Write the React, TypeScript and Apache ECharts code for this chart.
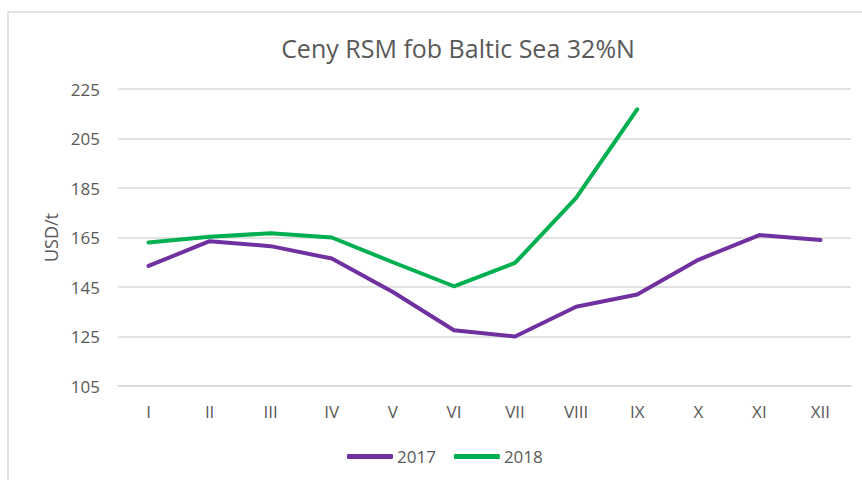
import React, { useEffect, useRef } from "react";
import * as echarts from "echarts";

const months = ["I", "II", "III", "IV", "V", "VI", "VII", "VIII", "IX", "X", "XI", "XII"];
const series2017 = [153.5, 163.5, 161.5, 156.5, 143, 127.5, 125, 137, 142, 156, 166, 164];
const series2018 = [163, 165.3, 166.7, 165, 155, 145.3, 154.7, 181, 216.8, null, null, null];
const yTicks = { min: 105, max: 225, interval: 20 };

const FONT = "'Open Sans', 'Noto Sans', sans-serif";
const TXT = "#595959";

export default function App() {
  const ref = useRef<HTMLDivElement>(null);
  useEffect(() => {
    document.body.style.margin = "0";
    const chart = echarts.init(ref.current!, null, { renderer: "svg" });
    chart.setOption({
      animation: false,
      backgroundColor: "#ffffff",
      textStyle: { fontFamily: FONT },
      graphic: [
        {
          type: "rect",
          shape: { x: 8, y: 12, width: 900, height: 520 },
          style: { fill: "none", stroke: "#d9d9d9", lineWidth: 1.5 },
          silent: true,
        },
      ],
      title: {
        text: "Ceny RSM fob Baltic Sea 32%N",
        left: 453,
        textAlign: "center",
        top: 30,
        textStyle: { fontFamily: FONT, fontSize: 25, fontWeight: "normal", color: TXT },
      },
      legend: {
        top: 443,
        left: 342,
        itemWidth: 46,
        itemHeight: 5,
        itemGap: 18,
        icon: "roundRect",
        textStyle: { fontFamily: FONT, fontSize: 17, color: TXT, padding: [0, 0, 0, -1] },
        data: ["2017", "2018"],
      },
      grid: { left: 118, right: 11, top: 89, bottom: 94, containLabel: false },
      xAxis: {
        type: "category",
        data: months,
        boundaryGap: true,
        axisLine: { show: true, lineStyle: { color: "#d9d9d9", width: 1.5 } },
        axisTick: { show: false },
        axisLabel: { color: TXT, fontSize: 17, margin: 17, fontFamily: FONT },
      },
      yAxis: {
        type: "value",
        min: yTicks.min,
        max: yTicks.max,
        interval: yTicks.interval,
        name: "USD/t",
        nameLocation: "middle",
        nameGap: 58,
        nameTextStyle: { color: TXT, fontSize: 18, fontFamily: FONT },
        axisLine: { show: false },
        axisTick: { show: false },
        axisLabel: { color: TXT, fontSize: 17, margin: 18, fontFamily: FONT },
        splitLine: { lineStyle: { color: "#d9d9d9", width: 1.5 } },
      },
      series: [
        {
          name: "2017",
          type: "line",
          data: series2017,
          symbol: "none",
          lineStyle: { color: "#7030A0", width: 4, cap: "round", join: "round" },
          itemStyle: { color: "#7030A0" },
        },
        {
          name: "2018",
          type: "line",
          data: series2018,
          symbol: "none",
          lineStyle: { color: "#00B050", width: 4, cap: "round", join: "round" },
          itemStyle: { color: "#00B050" },
        },
      ],
    });
    return () => chart.dispose();
  }, []);
  return <div ref={ref} style={{ width: 862, height: 480 }} />;
}
